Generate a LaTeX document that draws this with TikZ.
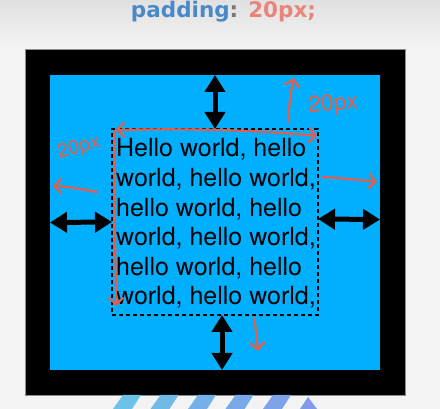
\documentclass[tikz,border=0pt]{standalone}
\usepackage{fontspec}
\setmainfont{TeX Gyre Heros}
\newfontfamily\titlefont{DejaVu Sans}
\usetikzlibrary{arrows.meta}

\definecolor{pagegray}{RGB}{243,243,243}
\definecolor{padblue}{RGB}{0,176,255}
\definecolor{propblue}{RGB}{74,137,200}
\definecolor{colongray}{RGB}{120,120,120}
\definecolor{valred}{RGB}{232,133,122}
\definecolor{inkred}{RGB}{230,92,72}
\definecolor{stripeA}{RGB}{108,194,232}
\definecolor{stripeB}{RGB}{131,153,234}

\begin{document}
\begin{tikzpicture}[
    x=1pt, y=-1pt,
    box/.style={inner sep=0pt, outer sep=0pt},
    gap/.style={{Triangle[length=17pt,width=20pt]}-{Triangle[length=17pt,width=20pt]},
      line width=5pt, draw=black},
    note/.style={draw=inkred, line width=2.2pt, line cap=round, line join=round,
      -{Straight Barb[length=7pt,width=15pt]}},
    hand/.style={text=inkred, inner sep=0pt},
    txt/.style={anchor=base west, inner sep=0pt, font=\fontsize{25}{30}\selectfont},
  ]
    % page
    \useasboundingbox (0,0) rectangle (440,409);
    \fill[pagegray] (0,0) rectangle (440,409);
    \shade[top color=black!12, bottom color=pagegray] (0,0) rectangle (440,45);

    % heading
    \node[box, anchor=base] (title) at (223.5,17.5)
      {\titlefont\bfseries\fontsize{21.5}{23}\selectfont
       \textcolor{propblue}{padding}\textcolor{colongray}{:} \textcolor{valred}{20px;}};

    % boxes
    \node[box, fill=black, draw=black!45, line width=0.6pt,
      minimum width=380, minimum height=346] (frame) at (215,222) {};
    \node[box, fill=padblue, minimum width=330, minimum height=295] (pad) at (215,222.5) {};
    \node[box, draw=black, line width=2.4pt, dash pattern=on 4pt off 3pt,
      minimum width=206, minimum height=186] (content) at (215,222) {};

    \foreach \s [count=\i] in {Hello world\comma{} hello,world\comma{} hello world\comma,
        hello world\comma{} hello,world\comma{} hello world\comma,
        hello world\comma{} hello,world\comma{} hello world\comma}
      \node[txt] (line\i) at (116,157+29.6*\i-29.6) {\def\comma{,}\s};

    % padding arrows
    \draw[gap] (pad.north) -- (content.north);
    \draw[gap] ([xshift=7pt]content.south) -- ([xshift=7pt]pad.south);
    \draw[gap] (pad.west) -- (content.west);
    \draw[gap] ([yshift=3pt]content.east) -- ([yshift=3pt]pad.east);

    % hand notes
    \draw[note, {Straight Barb[length=7pt,width=15pt]}-{Straight Barb[length=7pt,width=15pt]}]
      (116,130) .. controls (200,128) and (270,131) .. (317,136);
    \draw[note] (115,131) .. controls (113,200) and (116,260) .. (116,306);
    \draw[note] (97,192) .. controls (80,189) and (65,186) .. (53,186);
    \draw[note] (288,122) .. controls (289,105) and (291,90) .. (294,78);
    \draw[note] (322,177) .. controls (340,178) and (360,180) .. (377,182);
    \draw[note] (254,318) .. controls (256,330) and (257,340) .. (258,351);
    \node[hand, rotate=14, font=\fontsize{20}{20}\selectfont] (left20) at (79,148) {20px};
    \node[hand, rotate=4, font=\fontsize{23}{23}\selectfont] (top20) at (333,105) {20px};

    % stripes below
    \foreach \x [count=\i] in {113,150.5,188,225.5,263} {
      \pgfmathsetmacro{\p}{int(20*(\i-1))}
      \fill[stripeB!\p!stripeA] (\x,409) -- (\x+19,409) -- (\x+28,395) -- (\x+10,395) -- cycle;
    }
    \fill[stripeB] (300,409) -- (308,397) -- (317,409) -- cycle;
  \end{tikzpicture}
\end{document}
